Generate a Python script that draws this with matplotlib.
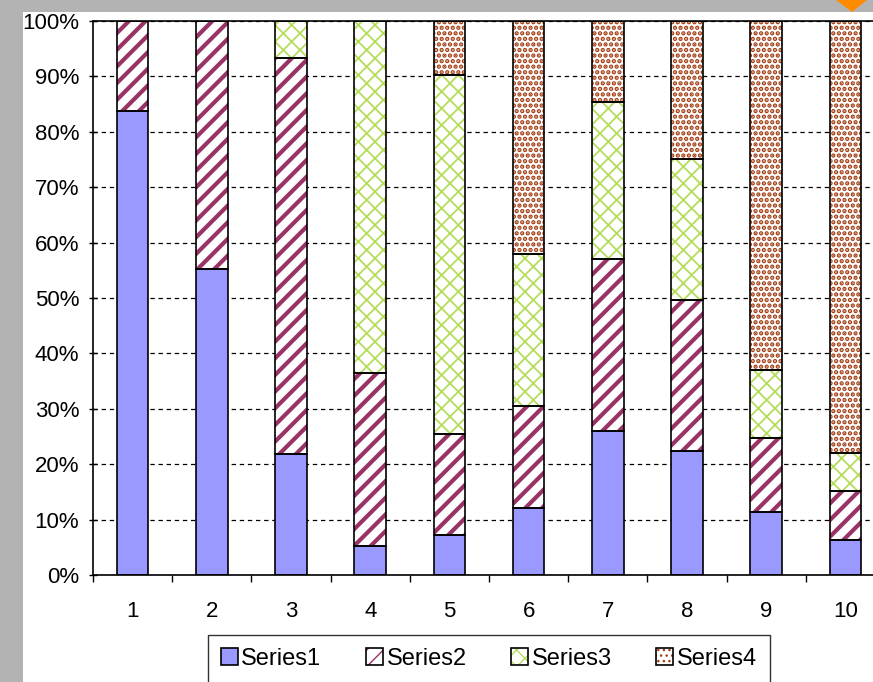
import numpy as np
import matplotlib.pyplot as plt
from matplotlib.patches import Rectangle, Polygon
from matplotlib.ticker import FixedLocator, PercentFormatter

plt.rcParams['font.family'] = ['Liberation Sans', 'DejaVu Sans']

# 100% stacked values (percent of each column)
categories = ['1', '2', '3', '4', '5', '6', '7', '8', '9', '10']
series1 = [83.8, 55.2, 21.8, 5.2, 7.2, 12.1, 26.0, 22.4, 11.4, 6.3]
series2 = [16.2, 44.8, 71.5, 31.3, 18.3, 18.4, 31.0, 27.2, 13.3, 8.9]
series3 = [0.0, 0.0, 6.7, 63.5, 64.8, 27.4, 28.4, 25.5, 12.3, 6.8]
series4 = [0.0, 0.0, 0.0, 0.0, 9.7, 42.1, 14.6, 24.9, 63.0, 78.0]
names = ['Series1', 'Series2', 'Series3', 'Series4']

W, H = 873, 682
fig = plt.figure(figsize=(W / 100, H / 100), dpi=100, facecolor='#b3b3b3')
# white slide area with an orange marker at the top edge
fig.patches.append(Rectangle((23 / W, 0), 1, 1 - 12 / H, transform=fig.transFigure,
                             facecolor='white', edgecolor='none', zorder=-10))
fig.patches.append(Polygon([(836 / W, 1), (867 / W, 1), (852 / W, 1 - 12 / H)],
                           closed=True, transform=fig.transFigure,
                           facecolor='#ff8c00', edgecolor='none'))

ax = fig.add_axes([93 / W, 107 / H, 792 / W, 554 / H])
ax.set_facecolor('none')

x = np.arange(1, len(categories) + 1)
styles = [
    dict(color='#9999ff', edgecolor='#9999ff', hatch=None, hlw=1.0),
    dict(color='white', edgecolor='#993366', hatch='//', hlw=3.0),
    dict(color='white', edgecolor='#b5dc5a', hatch='xx', hlw=1.3),
    dict(color='white', edgecolor='#a33d12', hatch='...', hlw=2.2),
]

bottom = np.zeros(len(x))
handles = []
for vals, st, name in zip([series1, series2, series3, series4], styles, names):
    vals = np.array(vals)
    with plt.rc_context({'hatch.linewidth': st['hlw']}):
        fill = ax.bar(x, vals, 0.4, bottom=bottom, color=st['color'],
                      edgecolor=st['edgecolor'], hatch=st['hatch'], linewidth=0, zorder=2)
    edge = ax.bar(x, vals, 0.4, bottom=bottom, fill=False, edgecolor='black',
                  linewidth=1.2, zorder=3)
    handles.append((fill.patches[0], edge.patches[0]))
    bottom += vals

ax.set_xlim(0.5, 10.5)
ax.set_ylim(0, 100)
ax.set_yticks(np.arange(0, 101, 10))
ax.yaxis.set_major_formatter(PercentFormatter(decimals=0))
ax.set_xticks(x)
ax.set_xticklabels(categories)
ax.xaxis.set_minor_locator(FixedLocator(np.arange(0.5, 11, 1)))

ax.grid(axis='y', color='black', linestyle=(0, (3.5, 3)), linewidth=0.9, zorder=1)
ax.set_axisbelow(True)
ax.spines['right'].set_visible(False)
for s in ['left', 'bottom', 'top']:
    ax.spines[s].set_linewidth(1.2)

ax.tick_params(axis='y', length=6, width=1, pad=7, labelsize=16, direction='inout')
ax.tick_params(axis='x', which='major', length=0, pad=19, labelsize=16)
ax.tick_params(axis='x', which='minor', length=5, width=1, direction='out')

ax.legend(handles, names, loc='upper center', ncol=4,
          bbox_to_anchor=(489 / W, 1 - 635 / H), bbox_transform=fig.transFigure,
          fontsize=17, frameon=True, fancybox=False, edgecolor='black',
          handlelength=0.7, handleheight=0.7, handletextpad=0.15,
          columnspacing=1.9, borderpad=0.55, borderaxespad=0)

fig.savefig('out.png', dpi=100, facecolor=fig.get_facecolor())
